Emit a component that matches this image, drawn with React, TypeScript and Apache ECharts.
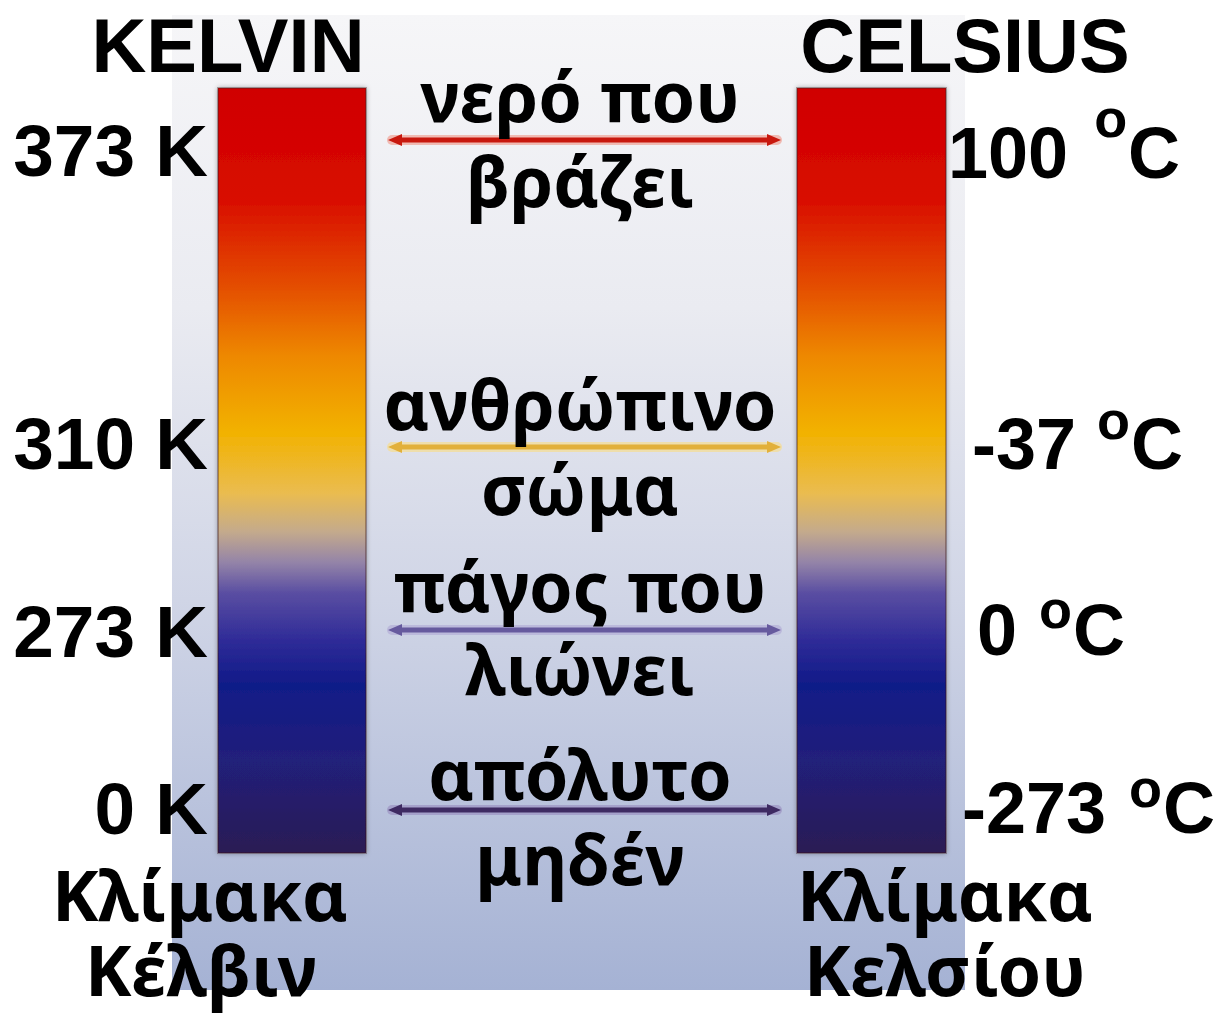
import React, { useEffect, useRef } from "react";
import * as echarts from "echarts";

// ---- data ----
const headers = ["KELVIN", "CELSIUS"];
const kelvinLabels = ["373 K", "310 K", "273 K", "0 K"];
const celsiusNumbers = ["100", "-37", "0", "-273"];
const celsiusUnit = ["o", "C"];
const phenomenaTop = ["νερό που", "ανθρώπινο", "πάγος που", "απόλυτο"];
const phenomenaBottom = ["βράζει", "σώμα", "λιώνει", "μηδέν"];
const scaleNames = [
  ["Κλίμακα", "Κέλβιν"],
  ["Κλίμακα", "Κελσίου"],
];

// ---- layout / style ----
const W = 1222;
const H = 1013;
const ARIAL = '"Liberation Sans", Arial, sans-serif';
const GREEK = '"Noto Sans", "Open Sans", sans-serif';
const NUM_FS = 73;
const RIGHT_FS = 72;
const SUP_FS = 54;
const GR_FS = 70;
const CENTRAL_AR = 0.3465;
const CENTRAL_GR = 0.388;

const panel = { x: 172, y: 15, w: 793, h: 975 };
const barLeft = { x: 218, y: 88, w: 148, h: 765 };
const barRight = { x: 797, y: 88, w: 149, h: 765 };
const arrowY = [140, 447, 630, 810];
const arrowX = [388, 781];
const arrowColors = ["#c8180e", "#e2b03a", "#665a9e", "#3e2a62"];
const arrowGlow = ["rgba(240,120,100,0.45)", "rgba(250,220,130,0.6)", "rgba(170,160,210,0.5)", "rgba(140,120,180,0.45)"];
const rowBaseline = [176, 469, 657, 834];
const rightBaseline = [178, 469, 655, 833];
const rightX = [948, 972, 977, 962];
const supRaise = [41, 30, 27, 26];
const supGap = [6, 1, 2, 3];
const midTopBase = [122, 430, 612, 800];
const midBotBase = [207, 515, 695, 885];
const midX = 580;

function measure(text: string, font: string) {
  const c = document.createElement("canvas");
  const ctx = c.getContext("2d")!;
  ctx.font = font;
  return ctx.measureText(text).width;
}

function txt(
  text: string,
  x: number,
  baseline: number,
  fs: number,
  family: string,
  align: string,
  central: number
) {
  return {
    type: "text",
    x,
    y: baseline - central * fs,
    silent: true,
    style: {
      text,
      fill: "#000",
      fontSize: fs,
      fontWeight: "bold",
      fontFamily: family,
      align,
      textAlign: align,
      verticalAlign: "middle",
      textVerticalAlign: "middle",
    },
  };
}

export default function App() {
  const ref = useRef<HTMLDivElement>(null);
  useEffect(() => {
    document.body.style.margin = "0";
    document.body.style.overflow = "hidden";
    if (!ref.current) return;
    const chart = echarts.init(ref.current, undefined, { renderer: "svg" });

    const barGradient = () =>
      new echarts.graphic.LinearGradient(0, 0, 0, 1, [
        { offset: 0, color: "#d00000" },
        { offset: 0.14, color: "#d80a00" },
        { offset: 0.26, color: "#e44e00" },
        { offset: 0.35, color: "#ee8800" },
        { offset: 0.45, color: "#f2b200" },
        { offset: 0.53, color: "#eabc50" },
        { offset: 0.58, color: "#c4aa8c" },
        { offset: 0.62, color: "#9484a8" },
        { offset: 0.66, color: "#5a4ea2" },
        { offset: 0.72, color: "#302c98" },
        { offset: 0.78, color: "#101a88" },
        { offset: 0.88, color: "#22207a" },
        { offset: 1, color: "#2a1c54" },
      ]);

    const elements: any[] = [];
    elements.push({
      type: "rect",
      shape: { x: 0, y: 0, width: W, height: H },
      style: { fill: "#ffffff" },
      silent: true,
    });
    elements.push({
      type: "rect",
      shape: { x: panel.x, y: panel.y, width: panel.w, height: panel.h },
      style: {
        fill: new echarts.graphic.LinearGradient(0, 0, 0, 1, [
          { offset: 0, color: "#f6f6f8" },
          { offset: 0.3, color: "#eaebf1" },
          { offset: 0.6, color: "#d0d5e6" },
          { offset: 1, color: "#a5b2d4" },
        ]),
      },
      silent: true,
    });
    [barLeft, barRight].forEach((b) => {
      elements.push({
        type: "rect",
        shape: { x: b.x, y: b.y, width: b.w, height: b.h },
        style: {
          fill: barGradient(),
          stroke: "rgba(60,20,20,0.35)",
          lineWidth: 2,
          shadowBlur: 5,
          shadowColor: "rgba(0,0,0,0.35)",
        },
        silent: true,
      });
    });

    arrowY.forEach((y, i) => {
      const c = arrowColors[i];
      const [x1, x2] = arrowX;
      elements.push({
        type: "line",
        shape: { x1: x1 + 4, y1: y, x2: x2 - 4, y2: y },
        style: { stroke: arrowGlow[i], lineWidth: 10, lineCap: "round" },
        silent: true,
      });
      elements.push({
        type: "line",
        shape: { x1: x1 + 8, y1: y, x2: x2 - 8, y2: y },
        style: { stroke: c, lineWidth: 5 },
        silent: true,
      });
      elements.push({
        type: "polygon",
        shape: { points: [[x1, y], [x1 + 14, y - 6], [x1 + 14, y + 6]] },
        style: { fill: c },
        silent: true,
      });
      elements.push({
        type: "polygon",
        shape: { points: [[x2, y], [x2 - 14, y - 6], [x2 - 14, y + 6]] },
        style: { fill: c },
        silent: true,
      });
    });

    // headers
    elements.push(txt(headers[0], 228, 72, 76, ARIAL, "center", CENTRAL_AR));
    elements.push(txt(headers[1], 965, 72, 76, ARIAL, "center", CENTRAL_AR));

    // kelvin labels
    kelvinLabels.forEach((t, i) => {
      elements.push(txt(t, 208, rowBaseline[i], NUM_FS, ARIAL, "right", CENTRAL_AR));
    });

    // celsius labels
    const numFont = `bold ${RIGHT_FS}px ${ARIAL}`;
    const supFont = `bold ${SUP_FS}px ${ARIAL}`;
    celsiusNumbers.forEach((t, i) => {
      const x0 = rightX[i];
      const b = rightBaseline[i];
      const w = measure(t + " ", numFont);
      const ox = x0 + w + supGap[i];
      const ow = measure(celsiusUnit[0], supFont);
      elements.push(txt(t, x0, b, RIGHT_FS, ARIAL, "left", CENTRAL_AR));
      elements.push(txt(celsiusUnit[0], ox, b - supRaise[i], SUP_FS, ARIAL, "left", CENTRAL_AR));
      elements.push(txt(celsiusUnit[1], ox + ow + 1, b, RIGHT_FS, ARIAL, "left", CENTRAL_AR));
    });

    // middle phenomena
    phenomenaTop.forEach((t, i) => {
      elements.push(txt(t, midX, midTopBase[i], GR_FS, GREEK, "center", CENTRAL_GR));
      elements.push(txt(phenomenaBottom[i], midX, midBotBase[i], GR_FS, GREEK, "center", CENTRAL_GR));
    });

    // scale names
    elements.push(txt(scaleNames[0][0], 200, 921, GR_FS, GREEK, "center", CENTRAL_GR));
    elements.push(txt(scaleNames[0][1], 201, 996, GR_FS, GREEK, "center", CENTRAL_GR));
    elements.push(txt(scaleNames[1][0], 945, 921, GR_FS, GREEK, "center", CENTRAL_GR));
    elements.push(txt(scaleNames[1][1], 945, 996, GR_FS, GREEK, "center", CENTRAL_GR));

    chart.setOption({
      animation: false,
      backgroundColor: "#ffffff",
      graphic: { elements },
    });
    return () => chart.dispose();
  }, []);
  return <div ref={ref} style={{ width: W, height: H }} />;
}
